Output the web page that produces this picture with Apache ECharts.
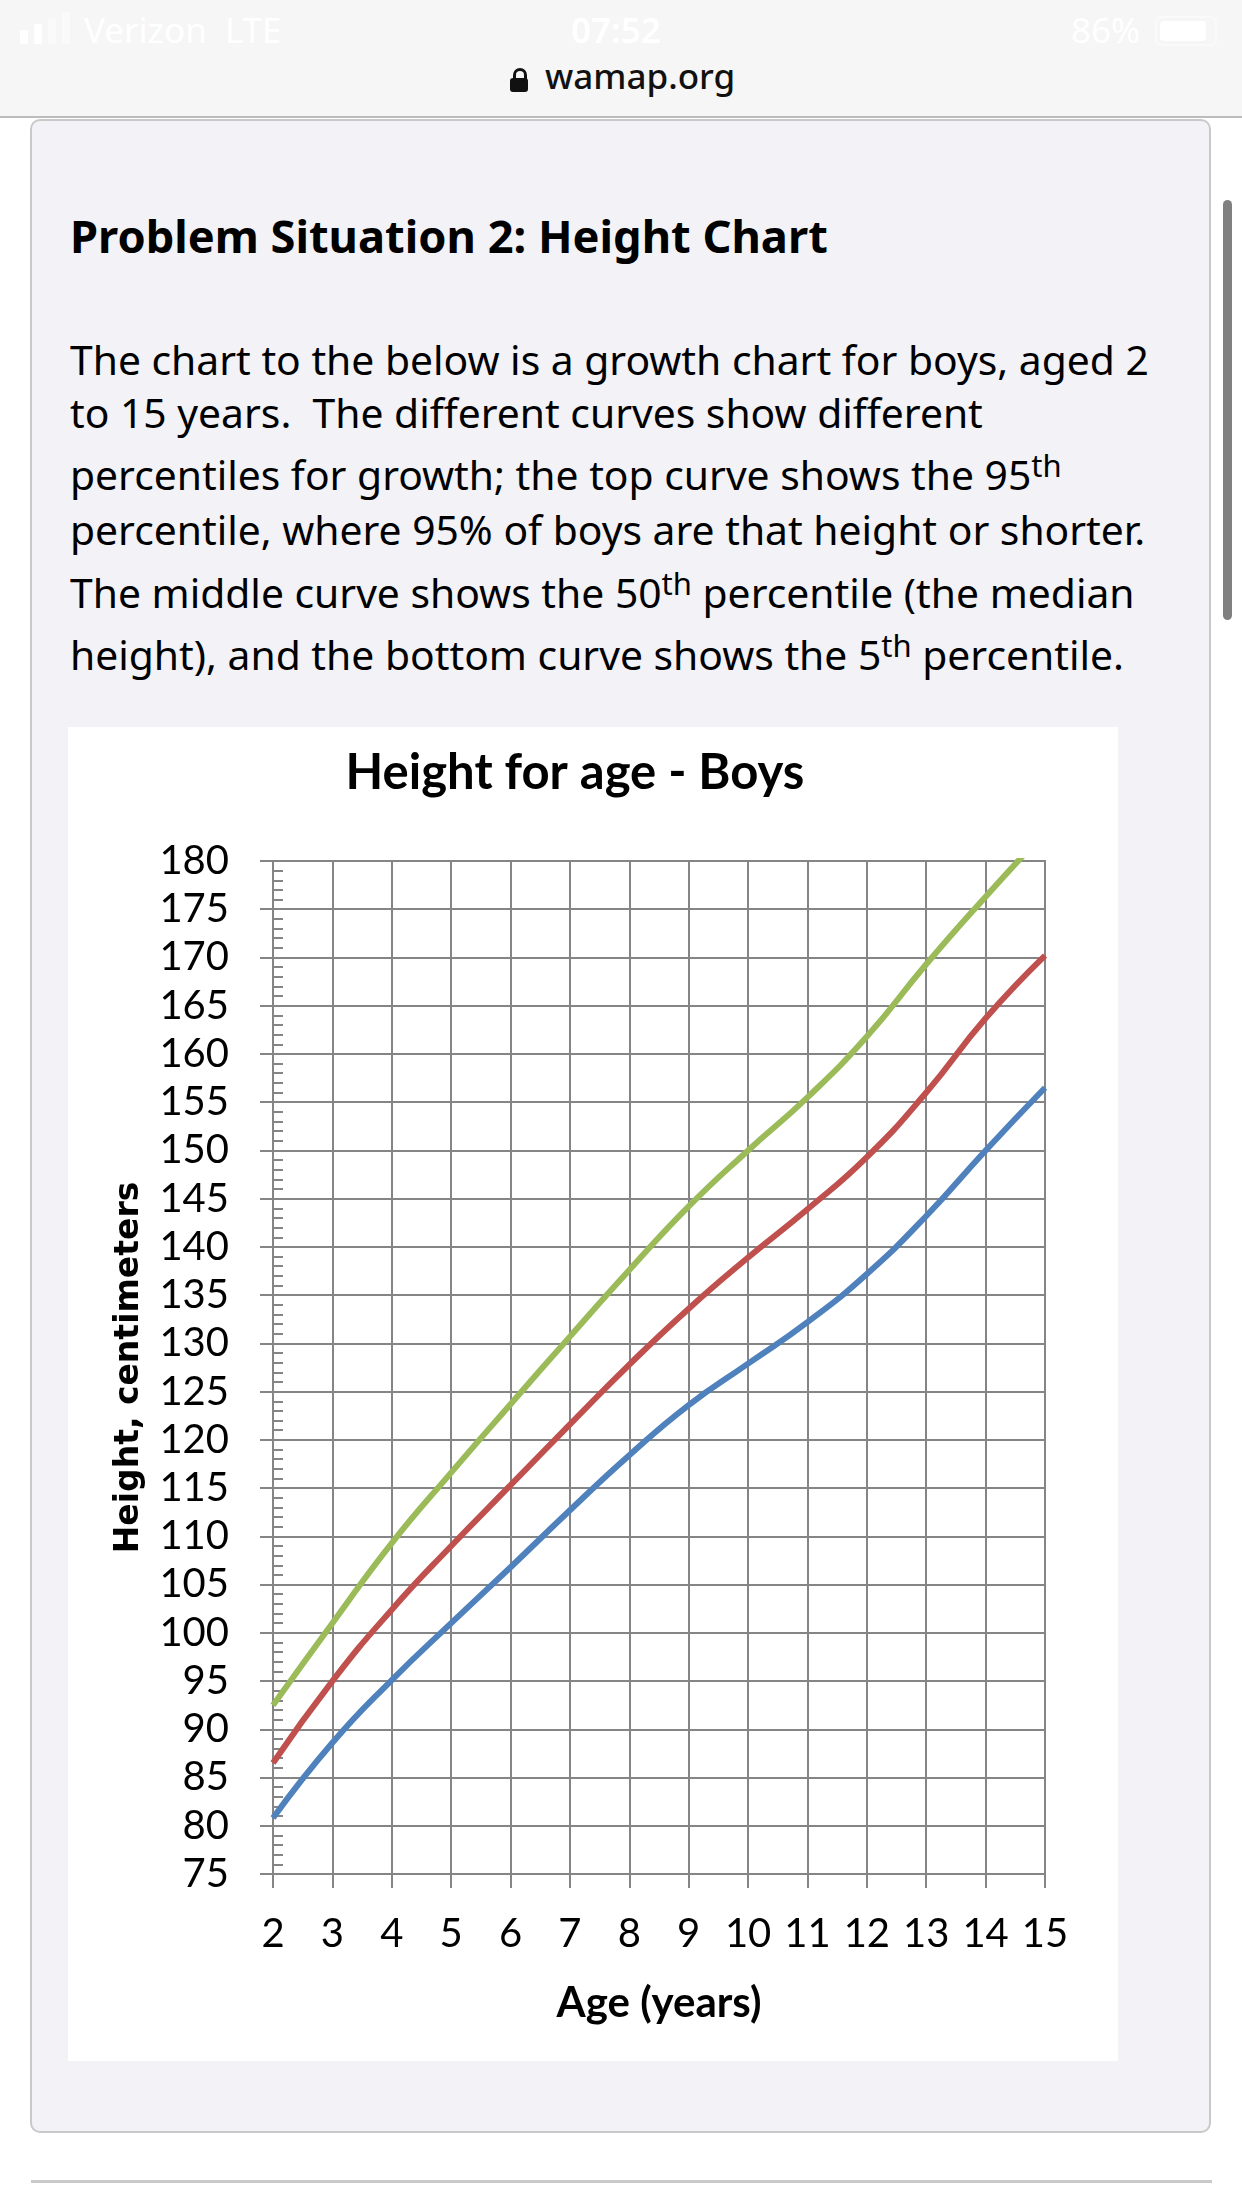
<!DOCTYPE html>
<html>
<head>
<meta charset="utf-8">
<script src="https://cdn.jsdelivr.net/npm/echarts@6/dist/echarts.min.js"></script>
<style>
  html, body { margin: 0; padding: 0; }
  body { width: 1242px; height: 2208px; position: relative; background: #ffffff; overflow: hidden; font-family: "Noto Sans", sans-serif; }
  .abs { position: absolute; }
  #topbar { left: 0; top: 0; width: 1242px; height: 116px; background: #f6f6f6; border-bottom: 2px solid #bcbcbc; }
  .status { color: #ffffff; font-size: 35px; white-space: nowrap; }
  #card { left: 30px; top: 119px; width: 1177px; height: 2010px; background: #f2f2f7; border: 2px solid #c9c9c9; border-radius: 10px; }
  .line { white-space: nowrap; color: #000; left: 70px; }
  .line sup { font-size: 0.76em; vertical-align: 0.42em; line-height: 0; }
  .bl { display: inline-block; width: 0; height: 0; vertical-align: baseline; }
  #chart { left: 68px; top: 727px; width: 1050px; height: 1334px; background: #ffffff; }
  #scroll { left: 1223px; top: 200px; width: 9px; height: 420px; border-radius: 5px; background: #808080; }
  #rule { left: 31px; top: 2180px; width: 1181px; height: 3px; background: #cacaca; }
</style>
</head>
<body>
<div id="topbar" class="abs"></div>
<div class="abs" style="left:20px;top:30px;width:8px;height:14px;background:#fff;border-radius:2px"></div>
<div class="abs" style="left:34px;top:24px;width:8px;height:20px;background:#fff;border-radius:2px"></div>
<div class="abs" style="left:48px;top:18px;width:8px;height:26px;background:#fafafa;border-radius:2px"></div>
<div class="abs" style="left:62px;top:12px;width:8px;height:32px;background:#fafafa;border-radius:2px"></div>
<div class="abs status" style="left:84px;top:6px">Verizon&nbsp;&nbsp;LTE</div>
<div class="abs status" style="left:571px;top:6px;font-weight:600">07:52</div>
<div class="abs status" style="left:1071px;top:6px">86%</div>
<div class="abs" style="left:1155px;top:16px;width:58px;height:26px;border:2px solid #fafafa;border-radius:7px"></div>
<div class="abs" style="left:1160px;top:21px;width:46px;height:20px;background:#fff;border-radius:4px"></div>
<div class="abs" style="left:510px;top:68px;width:18px;height:24px;">
  <div class="abs" style="left:3px;top:0;width:8px;height:12px;border:3px solid #111;border-bottom:none;border-radius:7px 7px 0 0"></div>
  <div class="abs" style="left:0;top:10px;width:18px;height:14px;background:#111;border-radius:3px"></div>
</div>
<div class="abs" style="left:545px;top:52px;font-size:35px;font-weight:500;color:#111;white-space:nowrap">wamap.org</div>

<div id="card" class="abs"></div>
<div id="scroll" class="abs"></div>

<div class="abs line" id="head" data-base="253" data-w="758" style="font-weight:bold;font-size:44px"><span class="bl"></span>Problem Situation 2: Height Chart</div>
<div class="abs line body" id="l1" data-base="375" data-w="1079" style="font-size:38px"><span class="bl"></span>The chart to the below is a growth chart for boys, aged 2</div>
<div class="abs line body" data-base="428" style="font-size:38px"><span class="bl"></span>to 15 years.&nbsp; The different curves show different</div>
<div class="abs line body" data-base="490" style="font-size:38px"><span class="bl"></span>percentiles for growth; the top curve shows the 95<sup>th</sup></div>
<div class="abs line body" data-base="545" style="font-size:38px"><span class="bl"></span>percentile, where 95% of boys are that height or shorter.</div>
<div class="abs line body" data-base="608" style="font-size:38px"><span class="bl"></span>The middle curve shows the 50<sup>th</sup> percentile (the median</div>
<div class="abs line body" data-base="670" style="font-size:38px"><span class="bl"></span>height), and the bottom curve shows the 5<sup>th</sup> percentile.</div>

<div id="chart" class="abs"></div>
<div id="rule" class="abs"></div>

<script>
// chart data
var ages = [2, 3, 4, 5, 6, 7, 8, 9, 10, 11, 12, 13, 14, 15];
var p95 = [92.5, 101.0, 109.3, 116.6, 123.7, 130.7, 137.6, 144.2, 150.0, 155.5, 161.8, 169.3, 176.3, 183.0];
var p50 = [86.5, 95.0, 102.4, 109.0, 115.3, 121.6, 127.8, 133.6, 138.9, 143.9, 149.3, 156.0, 163.7, 170.2];
var p5 = [80.8, 88.6, 95.1, 101.0, 106.8, 112.7, 118.4, 123.6, 127.9, 132.2, 137.2, 143.2, 150.0, 156.5];
var seriesNames = ['95th', '50th', '5th'];
var seriesColors = ['#9bbb59', '#c0504d', '#4f81bd'];
var yMin = 75, yMax = 180, yStep = 5;
var xMin = 2, xMax = 15, xStep = 1;

// fit the page text to the measured widths, then put each line on its baseline
var body = document.querySelectorAll('.body');
var l1 = document.getElementById('l1');
var fs = 38 * l1.dataset.w / l1.getBoundingClientRect().width;
body.forEach(function (el) { el.style.fontSize = fs + 'px'; });
var head = document.getElementById('head');
head.style.fontSize = (44 * head.dataset.w / head.getBoundingClientRect().width) + 'px';
document.querySelectorAll('.line').forEach(function (el) {
  el.style.top = '0px';
  var off = el.querySelector('.bl').getBoundingClientRect().top - el.getBoundingClientRect().top;
  el.style.top = (el.dataset.base - off) + 'px';
});

function pairs(vals) {
  return ages.map(function (a, i) { return [a, vals[i]]; });
}

var grey = '#858585';
var chart = echarts.init(document.getElementById('chart'));
var option = {
  animation: false,
  backgroundColor: '#ffffff',
  title: {
    text: 'Height for age - Boys',
    left: 502,
    top: 17,
    textAlign: 'center',
    textStyle: { fontFamily: 'Lato', fontWeight: 'bold', fontSize: 49, color: '#000' }
  },
  grid: {
    left: 205, right: 73, top: 134, bottom: 187,
    show: true, borderColor: grey, borderWidth: 2, backgroundColor: '#fff'
  },
  xAxis: {
    type: 'value', min: xMin, max: xMax, interval: xStep,
    axisLine: { show: true, lineStyle: { color: grey, width: 2 } },
    axisTick: { show: true, length: 14, lineStyle: { color: grey, width: 2 } },
    axisLabel: { fontFamily: 'Lato', fontSize: 40, color: '#000', margin: 40 },
    splitLine: { show: true, lineStyle: { color: grey, width: 2 } },
    name: 'Age (years)', nameLocation: 'middle', nameGap: 108,
    nameTextStyle: { fontFamily: 'Lato', fontWeight: 'bold', fontSize: 42, color: '#000' }
  },
  yAxis: [{
    type: 'value', min: yMin, max: yMax, interval: yStep,
    axisLine: { show: true, lineStyle: { color: grey, width: 2 } },
    axisTick: { show: true, length: 13, lineStyle: { color: grey, width: 2 } },
    axisLabel: { fontFamily: 'Lato', fontSize: 40, color: '#000', margin: 44 },
    splitLine: { show: true, lineStyle: { color: grey, width: 2 } },
    name: 'Height, centimeters', nameLocation: 'middle', nameGap: 127, nameRotate: 90,
    nameTextStyle: { fontFamily: 'DejaVu Sans', fontWeight: 'bold', fontSize: 33, color: '#000' }
  }, {
    type: 'value', min: yMin, max: yMax, interval: yStep, position: 'left',
    axisLine: { show: false },
    axisLabel: { show: false },
    splitLine: { show: false },
    axisTick: { show: false, inside: true },
    minorTick: { show: true, splitNumber: 5, length: 10, lineStyle: { color: grey, width: 2 } }
  }],
  series: [p95, p50, p5].map(function (vals, i) {
    return {
      name: seriesNames[i],
      type: 'line',
      data: pairs(vals),
      smooth: 0.5,
      showSymbol: false,
      lineStyle: { width: 6, color: seriesColors[i] },
      itemStyle: { color: seriesColors[i] }
    };
  })
};
chart.setOption(option);
</script>
</body>
</html>
